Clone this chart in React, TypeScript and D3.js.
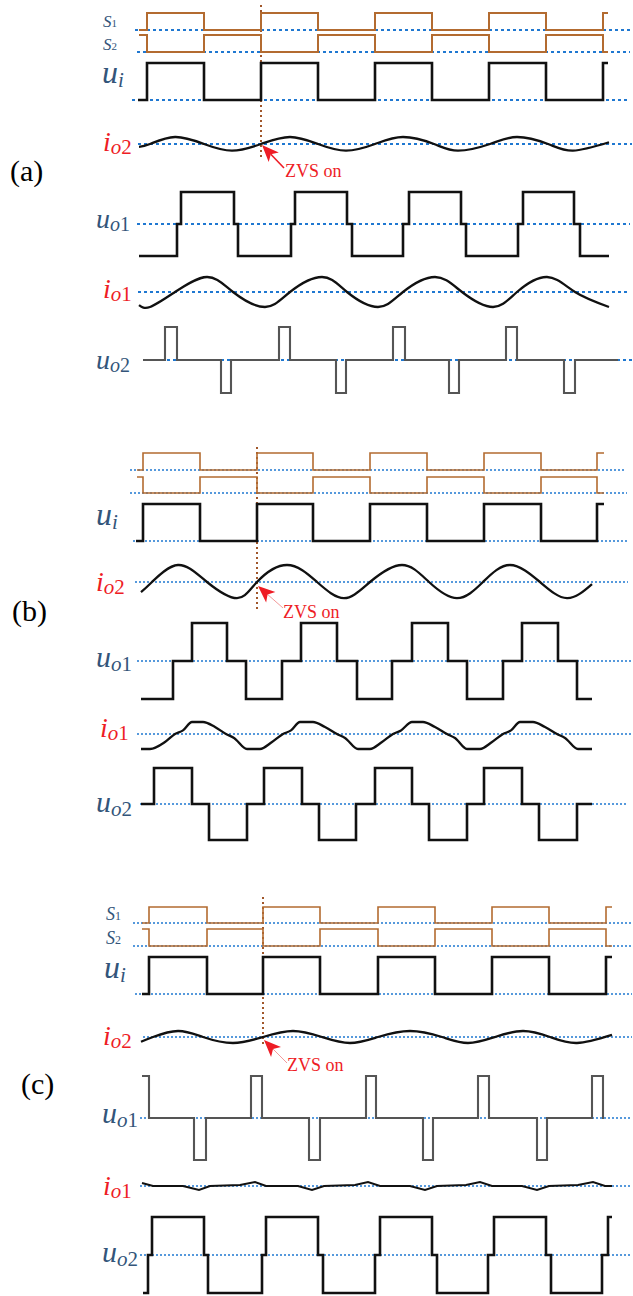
import React from "react";
import * as d3 from "d3";

// Time axis shared by all three operating modes (arbitrary time units).
const T_DOMAIN: [number, number] = [0, 500];

// ---------- Mode (a) ----------
const aGateT = [9, 17, 74, 131, 188, 245, 302, 359, 416, 473, 478];
const aS1 = [0, 1, 0, 1, 0, 1, 0, 1, 0, 1, 1];
const aS2 = [1, 0, 1, 0, 1, 0, 1, 0, 1, 0, 0];
const aUiT = [8, 17, 74, 131, 188, 245, 302, 359, 416, 473, 478];
const aUi = [0, 1, 0, 1, 0, 1, 0, 1, 0, 1, 1];
const aIo2T = [9, 20, 45, 74, 102, 131, 160, 188, 216, 245, 273, 304, 328, 360, 387, 418, 443, 479];
const aIo2 = [-0.4, 0, 1, 0, -0.95, 0, 1, 0, -0.95, 0, 1, 0, -0.95, 0, 1, 0, -0.95, 0.25];
const aUo1T = [9, 47, 51, 104, 108, 161, 165, 217, 222, 273, 279, 331, 336, 388, 393, 444, 450, 479];
const aUo1 = [-1, 0, 1, 0, -1, 0, 1, 0, -1, 0, 1, 0, -1, 0, 1, 0, -1, -1];
const aIo1T = [9, 20, 45, 77, 103, 135, 160, 192, 217, 248, 273, 305, 332, 363, 387, 417, 445, 479];
const aIo1 = [-0.87, -1, 0, 1, 0, -1, 0, 1, 0, -1, 0, 1, 0, -1, 0, 1, 0, -1];
const aUo2T = [13, 35, 47, 91, 101, 149, 160, 206, 216, 263, 275, 319, 329, 376, 387, 434, 445, 488];
const aUo2 = [0, 1, 0, -1, 0, 1, 0, -1, 0, 1, 0, -1, 0, 1, 0, -1, 0, 0];
const aZvsT = 131;

// ---------- Mode (b) ----------
const bGateT = [7, 13, 70, 127, 183, 240, 297, 354, 411, 467, 474];
const bS1 = [0, 1, 0, 1, 0, 1, 0, 1, 0, 1, 1];
const bS2 = [1, 0, 1, 0, 1, 0, 1, 0, 1, 0, 0];
const bUiT = [6, 13, 70, 127, 183, 240, 297, 354, 411, 467, 474];
const bUi = [0, 1, 0, 1, 0, 1, 0, 1, 0, 1, 1];
const bIo2T = [11, 22, 48, 77, 107, 127, 157, 187, 214, 240, 272, 299, 327, 353, 380, 410, 437, 462];
const bIo2 = [-0.6, 0, 1, 0, -0.95, 0, 1, 0, -0.95, 0, 1, 0, -0.95, 0, 1, 0, -0.95, -0.12];
const bUo1T = [11, 43, 62, 97, 116, 152, 171, 207, 227, 262, 282, 318, 337, 373, 392, 428, 447, 462];
const bUo1 = [-1, 0, 1, 0, -1, 0, 1, 0, -1, 0, 1, 0, -1, 0, 1, 0, -1, -1];
const bIo1T = [11, 20, 35, 45, 53, 62, 73, 85, 96, 104, 117, 130, 142, 153, 161, 170, 183, 195, 207, 215, 228, 240,
  252, 263, 271, 282, 293, 305, 317, 325, 337, 350, 362, 373, 381, 390, 403, 415, 427, 435, 448, 462];
const bIo1 = [-1.25, -1.25, -0.67, 0, 0.3, 1, 1, 0.58, 0, -0.33, -1.25, -1.25, -0.67, 0, 0.3, 1, 1, 0.58, 0, -0.33, -1.25, -1.25,
  -0.67, 0, 0.3, 1, 1, 0.58, 0, -0.33, -1.25, -1.25, -0.67, 0, 0.3, 1, 1, 0.58, 0, -0.33, -1.25, -1.25];
const bUo2T = [11, 24, 62, 79, 117, 134, 172, 189, 226, 245, 282, 299, 337, 354, 392, 409, 447, 462];
const bUo2 = [0, 1, 0, -1, 0, 1, 0, -1, 0, 1, 0, -1, 0, 1, 0, -1, 0, 0];
const bZvsT = 127;

// ---------- Mode (c) ----------
const cGateT = [12, 19, 77, 133, 190, 248, 305, 362, 419, 476, 482];
const cS1 = [0, 1, 0, 1, 0, 1, 0, 1, 0, 1, 1];
const cS2 = [1, 0, 1, 0, 1, 0, 1, 0, 1, 0, 0];
const cUi = [0, 1, 0, 1, 0, 1, 0, 1, 0, 1, 1];
const cIo2T = [11, 23, 48, 73, 103, 133, 163, 192, 220, 248, 280, 312, 338, 365, 393, 420, 447, 482];
const cIo2 = [-0.8, 0, 1, 0, -1, 0, 1, 0, -1, 0, 1, 0, -1, 0, 1, 0, -1, 0.35];
const cUo1T = [12, 19, 64, 76, 121, 132, 179, 190, 236, 246, 293, 303, 348, 359, 407, 417, 462, 473, 474];
const cUo1 = [1, 0, -1, 0, 1, 0, -1, 0, 1, 0, -1, 0, 1, 0, -1, 0, 1, 0, 0];
const cIo1T = [12, 23, 53, 69, 80, 110, 125, 136, 168, 182, 194, 225, 238, 250, 280, 295, 307, 336, 350, 362,
  392, 407, 419, 448, 463, 475, 482];
const cIo1 = [0.75, 0, 0, -1, 0, 0.25, 1, 0, 0, -1, 0, 0.25, 1, 0, 0, -1, 0, 0.25, 1, 0, 0, -1, 0, 0.25, 1, 0, 0];
const cUo2T = [13, 18, 22, 74, 78, 132, 136, 188, 193, 245, 250, 302, 307, 358, 364, 416, 421, 472, 478, 482];
const cUo2 = [-1, 0, 1, 0, -1, 0, 1, 0, -1, 0, 1, 0, -1, 0, 1, 0, -1, 0, 1, 1];
const cZvsT = 133;

// ---------- styling ----------
const BLUE = "#1f78d1";
const BROWN = "#b36b30";
const BLACK = "#111";
const GRAY = "#555";
const RED = "#ee1c25";
const LABEL = "#33557a";
const SERIF = '"Liberation Serif", "DejaVu Serif", serif';

const x = d3.scaleLinear().domain(T_DOMAIN).range([130, 630]);

type Kind = "step" | "smooth" | "flat" | "linear";

interface RowSpec {
  t: number[];
  v: number[];
  y0: number; // pixel of value 0
  y1: number; // pixel of value 1
  kind: Kind;
  stroke: string;
  sw: number;
  ref: [number, number]; // extent of the zero reference line
}

const curves: Record<Kind, d3.CurveFactory> = {
  step: d3.curveStepAfter,
  smooth: d3.curveNatural,
  flat: d3.curveMonotoneX,
  linear: d3.curveLinear,
};

function Wave({ r, dotW, dash }: { r: RowSpec; dotW: number; dash: string }) {
  const y = d3.scaleLinear().domain([0, 1]).range([r.y0, r.y1]);
  const pts: [number, number][] = r.t.map((t, i) => [t, r.v[i]]);
  const line = d3
    .line<[number, number]>()
    .x((d) => x(d[0]))
    .y((d) => y(d[1]))
    .curve(curves[r.kind]);
  return (
    <g>
      <line x1={x(r.ref[0])} x2={x(r.ref[1])} y1={y(0)} y2={y(0)} stroke={BLUE} strokeWidth={dotW} strokeDasharray={dash} />
      <path d={line(pts) || ""} fill="none" stroke={r.stroke} strokeWidth={r.sw} strokeLinejoin="miter" />
    </g>
  );
}

function Label({ x0, y0, main, sub, color, size, subSize }: {
  x0: number; y0: number; main: string; sub: string; color: string; size: number; subSize: number;
}) {
  // subscript split into an italic letter and an upright digit
  const letter = sub.replace(/[0-9]/g, "");
  const digit = sub.replace(/[^0-9]/g, "");
  return (
    <text x={x0} y={y0} style={{ fontFamily: SERIF }} fill={color} fontSize={size}>
      <tspan fontStyle="italic">{main}</tspan>
      <tspan fontSize={subSize} dy={size * 0.12} fontStyle="italic">{letter}</tspan>
      {digit && <tspan fontSize={subSize} fontStyle="normal">{digit}</tspan>}
    </text>
  );
}

function Arrow({ tipX, tipY, tailX, tailY, shaftColor, shaftW }: {
  tipX: number; tipY: number; tailX: number; tailY: number; shaftColor: string; shaftW: number;
}) {
  const dx = tailX - tipX;
  const dy = tailY - tipY;
  const len = Math.hypot(dx, dy);
  const ux = dx / len;
  const uy = dy / len;
  const hl = 17;
  const hw = 7;
  const bx = tipX + ux * hl;
  const by = tipY + uy * hl;
  const p1 = [bx - uy * hw, by + ux * hw];
  const p2 = [bx + uy * hw, by - ux * hw];
  const notch = [tipX + ux * hl * 0.75, tipY + uy * hl * 0.75];
  return (
    <g>
      <line x1={notch[0]} y1={notch[1]} x2={tailX} y2={tailY} stroke={shaftColor} strokeWidth={shaftW} />
      <polygon points={`${tipX},${tipY} ${p1[0]},${p1[1]} ${notch[0]},${notch[1]} ${p2[0]},${p2[1]}`} fill={RED} />
    </g>
  );
}

const rowsA: RowSpec[] = [
  { t: aGateT, v: aS1, y0: 30, y1: 13, kind: "step", stroke: BROWN, sw: 2, ref: [5, 500] },
  { t: aGateT, v: aS2, y0: 52, y1: 35, kind: "step", stroke: BROWN, sw: 2, ref: [7, 500] },
  { t: aUiT, v: aUi, y0: 100, y1: 63, kind: "step", stroke: BLACK, sw: 2.6, ref: [2, 500] },
  { t: aIo2T, v: aIo2, y0: 144, y1: 137, kind: "smooth", stroke: BLACK, sw: 2.3, ref: [8, 502] },
  { t: aUo1T, v: aUo1, y0: 224, y1: 192, kind: "step", stroke: BLACK, sw: 2.6, ref: [7, 500] },
  { t: aIo1T, v: aIo1, y0: 292, y1: 277, kind: "smooth", stroke: BLACK, sw: 2.3, ref: [8, 500] },
  { t: aUo2T, v: aUo2, y0: 360, y1: 327, kind: "step", stroke: GRAY, sw: 2.1, ref: [13, 502] },
];

const rowsB: RowSpec[] = [
  { t: bGateT, v: bS1, y0: 470, y1: 453, kind: "step", stroke: BROWN, sw: 1.6, ref: [0, 495] },
  { t: bGateT, v: bS2, y0: 493, y1: 477, kind: "step", stroke: BROWN, sw: 1.6, ref: [0, 497] },
  { t: bUiT, v: bUi, y0: 541, y1: 504, kind: "step", stroke: BLACK, sw: 2.6, ref: [3, 498] },
  { t: bIo2T, v: bIo2, y0: 582, y1: 565, kind: "smooth", stroke: BLACK, sw: 2.3, ref: [5, 498] },
  { t: bUo1T, v: bUo1, y0: 661, y1: 623, kind: "step", stroke: BLACK, sw: 2.6, ref: [7, 502] },
  { t: bIo1T, v: bIo1, y0: 734, y1: 722, kind: "flat", stroke: BLACK, sw: 2.3, ref: [7, 502] },
  { t: bUo2T, v: bUo2, y0: 804, y1: 768, kind: "step", stroke: BLACK, sw: 2.6, ref: [10, 498] },
];

const rowsC: RowSpec[] = [
  { t: cGateT, v: cS1, y0: 923, y1: 907, kind: "step", stroke: BROWN, sw: 1.6, ref: [3, 502] },
  { t: cGateT, v: cS2, y0: 946, y1: 929, kind: "step", stroke: BROWN, sw: 1.6, ref: [3, 502] },
  { t: cGateT, v: cUi, y0: 994, y1: 957, kind: "step", stroke: BLACK, sw: 2.6, ref: [5, 502] },
  { t: cIo2T, v: cIo2, y0: 1037, y1: 1031, kind: "smooth", stroke: BLACK, sw: 2.3, ref: [13, 502] },
  { t: cUo1T, v: cUo1, y0: 1118, y1: 1076, kind: "step", stroke: GRAY, sw: 2.1, ref: [10, 502] },
  { t: cIo1T, v: cIo1, y0: 1186, y1: 1182, kind: "linear", stroke: BLACK, sw: 2, ref: [10, 502] },
  { t: cUo2T, v: cUo2, y0: 1255, y1: 1217, kind: "step", stroke: BLACK, sw: 2.6, ref: [10, 502] },
];

function ZvsMarker({ t, yTop, yBot, tipY, dx, dy, textDx, textDy, shaftColor, shaftW }: {
  t: number; yTop: number; yBot: number; tipY: number; dx: number; dy: number; textDx: number; textDy: number;
  shaftColor: string; shaftW: number;
}) {
  const px = x(t);
  return (
    <g>
      <line x1={px} x2={px} y1={yTop} y2={yBot} stroke="#a0562a" strokeWidth={2} strokeDasharray="2 3" />
      <Arrow tipX={px + 1} tipY={tipY} tailX={px + dx} tailY={tipY + dy} shaftColor={shaftColor} shaftW={shaftW} />
      <text x={px + textDx} y={tipY + textDy} style={{ fontFamily: SERIF }} fontSize={18} fill={RED}>ZVS on</text>
    </g>
  );
}

export default function App() {
  return (
    <svg width={633} height={1296} style={{ position: "absolute", left: 0, top: 0, background: "#fff" }}>
      <rect width={633} height={1296} fill="#fff" />
      {/* mode (a) */}
      <ZvsMarker t={aZvsT} yTop={5} yBot={160} tipY={145} dx={23} dy={23} textDx={24} textDy={32} shaftColor={RED} shaftW={1.6} />
      {rowsA.map((r, i) => (
        <Wave key={"a" + i} r={r} dotW={2.2} dash="3 3" />
      ))}
      {/* mode (b) */}
      <ZvsMarker t={bZvsT} yTop={447} yBot={612} tipY={586} dx={26} dy={22} textDx={26} textDy={32} shaftColor="#f29a9a" shaftW={1} />
      {rowsB.map((r, i) => (
        <Wave key={"b" + i} r={r} dotW={1.5} dash="2 2" />
      ))}
      {/* mode (c) */}
      <ZvsMarker t={cZvsT} yTop={897} yBot={1045} tipY={1040} dx={24} dy={23} textDx={24} textDy={31} shaftColor="#f29a9a" shaftW={1} />
      {rowsC.map((r, i) => (
        <Wave key={"c" + i} r={r} dotW={1.5} dash="2 2" />
      ))}

      {/* signal names */}
      <Label x0={103} y0={27} main="S" sub="1" color={LABEL} size={17} subSize={11} />
      <Label x0={103} y0={50} main="S" sub="2" color={LABEL} size={17} subSize={11} />
      <Label x0={102} y0={83} main="u" sub="i" color={LABEL} size={32} subSize={21} />
      <Label x0={103} y0={151} main="i" sub="o2" color={RED} size={28} subSize={21} />
      <Label x0={96} y0={228} main="u" sub="o1" color={LABEL} size={28} subSize={20} />
      <Label x0={103} y0={298} main="i" sub="o1" color={RED} size={28} subSize={21} />
      <Label x0={96} y0={369} main="u" sub="o2" color={LABEL} size={28} subSize={20} />

      <Label x0={96} y0={525} main="u" sub="i" color={LABEL} size={32} subSize={21} />
      <Label x0={96} y0={591} main="i" sub="o2" color={RED} size={28} subSize={21} />
      <Label x0={96} y0={667} main="u" sub="o1" color={LABEL} size={30} subSize={21} />
      <Label x0={100} y0={737} main="i" sub="o1" color={RED} size={28} subSize={21} />
      <Label x0={96} y0={812} main="u" sub="o2" color={LABEL} size={30} subSize={21} />

      <Label x0={106} y0={920} main="S" sub="1" color={LABEL} size={18} subSize={12} />
      <Label x0={106} y0={944} main="S" sub="2" color={LABEL} size={18} subSize={12} />
      <Label x0={104} y0={978} main="u" sub="i" color={LABEL} size={32} subSize={21} />
      <Label x0={103} y0={1045} main="i" sub="o2" color={RED} size={28} subSize={21} />
      <Label x0={102} y0={1123} main="u" sub="o1" color={LABEL} size={30} subSize={21} />
      <Label x0={103} y0={1195} main="i" sub="o1" color={RED} size={28} subSize={21} />
      <Label x0={102} y0={1262} main="u" sub="o2" color={LABEL} size={30} subSize={21} />

      {/* mode tags */}
      <text x={10} y={181} style={{ fontFamily: SERIF }} fontSize={30} fill="#000">(a)</text>
      <text x={12} y={621} style={{ fontFamily: SERIF }} fontSize={30} fill="#000">(b)</text>
      <text x={21} y={1094} style={{ fontFamily: SERIF }} fontSize={30} fill="#000">(c)</text>
    </svg>
  );
}
